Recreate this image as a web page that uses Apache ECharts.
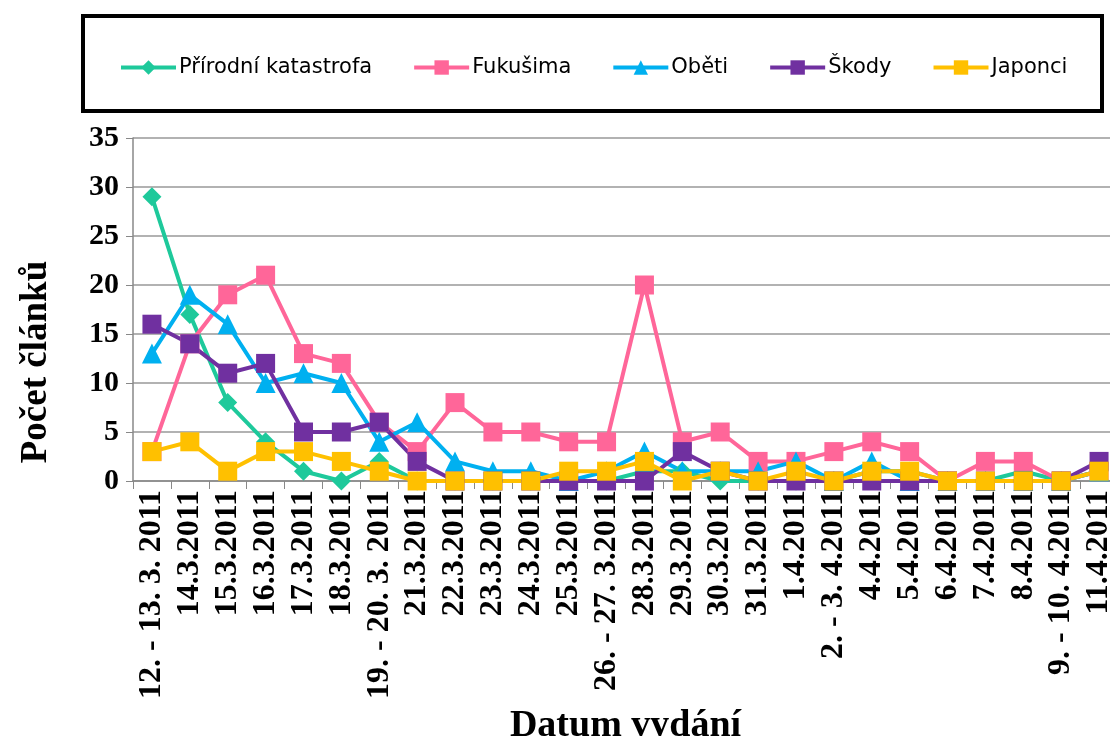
<!DOCTYPE html>
<html><head><meta charset="utf-8">
<script src="https://cdn.jsdelivr.net/npm/echarts@6/dist/echarts.min.js"></script>
<style>html,body{margin:0;padding:0;background:#fff}#c{width:1110px;height:736px}</style>
</head><body><div id="c"></div>
<script>
const categories = ["12. - 13. 3. 2011","14.3.2011","15.3.2011","16.3.2011","17.3.2011","18.3.2011","19. - 20. 3. 2011","21.3.2011","22.3.2011","23.3.2011","24.3.2011","25.3.2011","26. - 27. 3.2011","28.3.2011","29.3.2011","30.3.2011","31.3.2011","1.4.2011","2. - 3. 4.2011","4.4.2011","5.4.2011","6.4.2011","7.4.2011","8.4.2011","9. - 10. 4.2011","11.4.2011"];
const prirodni = [29,17,8,4,1,0,2,0,0,0,0,0,0,1,1,0,0,0,0,1,1,0,0,1,0,1];
const fukusima = [3,14,19,21,13,12,6,3,8,5,5,4,4,20,4,5,2,2,3,4,3,0,2,2,0,1];
const obeti    = [13,19,16,10,11,10,4,6,2,1,1,0,1,3,1,1,1,2,0,2,0,0,0,0,0,1];
const skody    = [16,14,11,12,5,5,6,2,0,0,0,0,0,0,3,1,0,0,0,0,0,0,0,0,0,2];
const japonci  = [3,4,1,3,3,2,1,0,0,0,0,1,1,2,0,1,0,1,0,1,1,0,0,0,0,1];
const yTicks = [0,5,10,15,20,25,30,35];
const yTitle = 'Počet článků';
const xTitle = 'Datum vydání';

const chart = echarts.init(document.getElementById('c'));
function s(name, data, color, symbol, size){
  return {name, type:'line', data, symbol, symbolSize:size,
    lineStyle:{color, width:4}, itemStyle:{color}, showSymbol:true, z:2};
}
chart.setOption({
  animation:false,
  backgroundColor:'#fff',
  graphic:[
    {type:'rect', shape:{x:83,y:16,width:1019,height:95}, style:{fill:'none', stroke:'#000', lineWidth:4}},
    {type:'text', x:36, y:362, rotation:Math.PI/2,
      style:{text:yTitle, fontFamily:'Liberation Serif', fontWeight:'bold', fontSize:37, fill:'#000', align:'center', verticalAlign:'middle'}}
  ],
  legend:{top:52, left:114, itemWidth:55, itemHeight:18, itemGap:40,
    lineStyle:{width:4},
    textStyle:{fontFamily:'DejaVu Sans', fontSize:21, color:'#000', padding:[0,0,0,-2]},
    data:['Přírodní katastrofa','Fukušima','Oběti','Škody','Japonci']},
  grid:{left:133, top:138, height:343, width:985, containLabel:false, outerBoundsMode:'none'},
  xAxis:{type:'category', data:categories, boundaryGap:true,
    axisLine:{lineStyle:{color:'#888', width:1.5}},
    axisTick:{show:true, interval:0, length:8, lineStyle:{color:'#888'}},
    axisLabel:{interval:0, rotate:90, margin:9, color:'#000', fontFamily:'Liberation Serif', fontWeight:'bold', fontSize:32},
    name:xTitle, nameLocation:'middle', nameGap:226,
    nameTextStyle:{fontFamily:'Liberation Serif', fontWeight:'bold', fontSize:38, color:'#000'}},
  yAxis:{type:'value', min:yTicks[0], max:yTicks[yTicks.length-1], interval:5,
    axisLine:{show:true, lineStyle:{color:'#888', width:1.5}},
    axisTick:{show:true, length:7, lineStyle:{color:'#888'}},
    splitLine:{lineStyle:{color:'#999', width:1.5}},
    axisLabel:{color:'#000', fontFamily:'Liberation Serif', fontWeight:'bold', fontSize:30, margin:14}},
  series:[
    s('Přírodní katastrofa', prirodni, '#1ec99b', 'diamond', 19),
    s('Fukušima', fukusima, '#ff6699', 'rect', 19),
    s('Oběti', obeti, '#00b0f0', 'triangle', 20),
    s('Škody', skody, '#7030a0', 'rect', 19),
    s('Japonci', japonci, '#ffc000', 'rect', 19)
  ]
});
</script></body></html>
